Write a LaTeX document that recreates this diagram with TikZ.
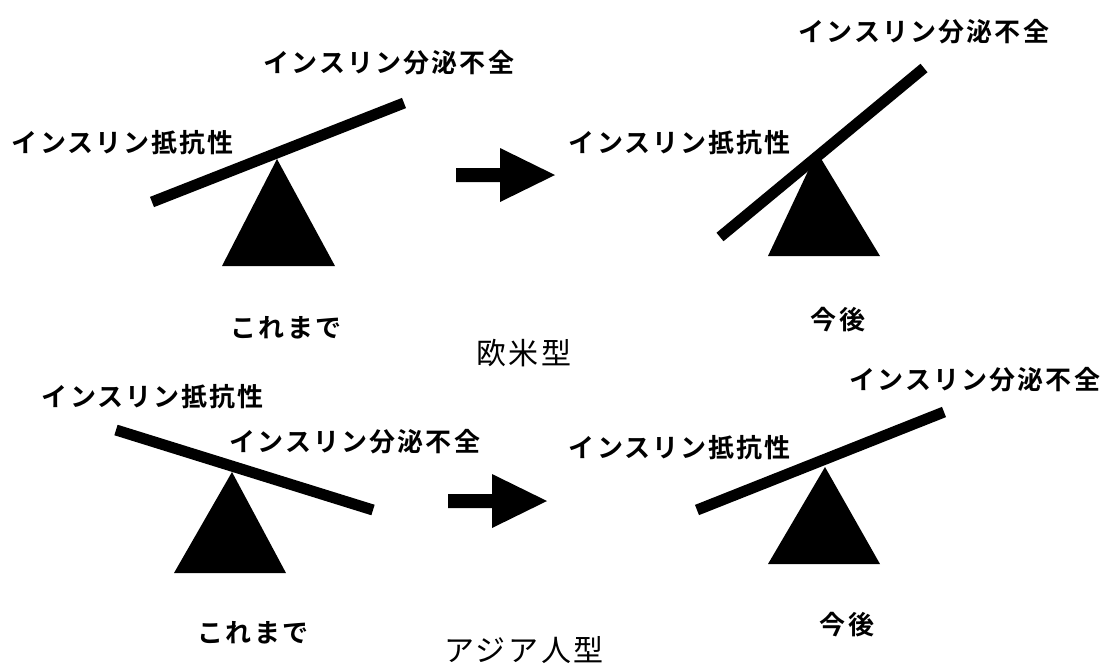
\documentclass[tikz,border=0pt]{standalone}
\usepackage{fontspec}
\newfontfamily\jpfont{Noto Sans CJK JP}[LetterSpace=8, BoldFont={Noto Sans CJK JP Bold}]
\newfontfamily\jptitlefont{Noto Sans CJK JP}[LetterSpace=9]
\usetikzlibrary{positioning}

\tikzset{
  sawlabel/.style={font=\jpfont\bfseries\fontsize{13pt}{13pt}\selectfont, inner sep=0pt},
  typetitle/.style={font=\jptitlefont\fontsize{15pt}{15pt}\selectfont, inner sep=0pt},
  beam/.style={line width=5.5pt, line cap=butt},
  fulcrum/.style={fill=black}
}
\newcommand{\fatarrow}[2]{%
  \fill (#1,#2) ++(0,-7) -- ++(44,0) -- ++(0,-20) -- ++(55,27) -- ++(-55,27)
    -- ++(0,-20) -- ++(-44,0) -- cycle;}

\begin{document}
\begin{tikzpicture}[x=0.5pt, y=-0.5pt]
  \useasboundingbox (0,0) rectangle (1105,666);

  % Western type, before
  \node[sawlabel] (wsecA) at (389,63) {インスリン分泌不全};
  \node[sawlabel] (wresA) at (123,143) {インスリン抵抗性};
  \fill[fulcrum] (222,266) -- (335,266) -- (277,159) -- cycle;
  \draw[beam] (152,202) -- (404,103);
  \node[sawlabel] (wbefore) at (286,328) {これまで};

  \fatarrow{456}{175}

  % Western type, after
  \node[sawlabel] (wsecB) at (924,32) {インスリン分泌不全};
  \node[sawlabel] (wresB) at (680,143) {インスリン抵抗性};
  \fill[fulcrum] (768,256) -- (880,256) -- (817,152) -- cycle;
  \draw[beam] (720,237) -- (924,68);
  \node[sawlabel] (wafter) at (838,320) {今後};

  \node[typetitle] (western) at (524,353) {欧米型};

  % Asian type, before
  \node[sawlabel] (aresA) at (153,397) {インスリン抵抗性};
  \node[sawlabel] (asecA) at (355,442) {インスリン分泌不全};
  \fill[fulcrum] (174,573) -- (286,573) -- (232,472) -- cycle;
  \draw[beam] (116,430) -- (373,510);
  \node[sawlabel] (abefore) at (253,633) {これまで};

  \fatarrow{448}{501}

  % Asian type, after
  \node[sawlabel] (asecB) at (975,380) {インスリン分泌不全};
  \node[sawlabel] (aresB) at (680,448) {インスリン抵抗性};
  \fill[fulcrum] (768,564) -- (880,564) -- (825,467) -- cycle;
  \draw[beam] (697,510) -- (944,412);
  \node[sawlabel] (aafter) at (847,625) {今後};

  \node[typetitle] (asian) at (524,650) {アジア人型};
\end{tikzpicture}
\end{document}
